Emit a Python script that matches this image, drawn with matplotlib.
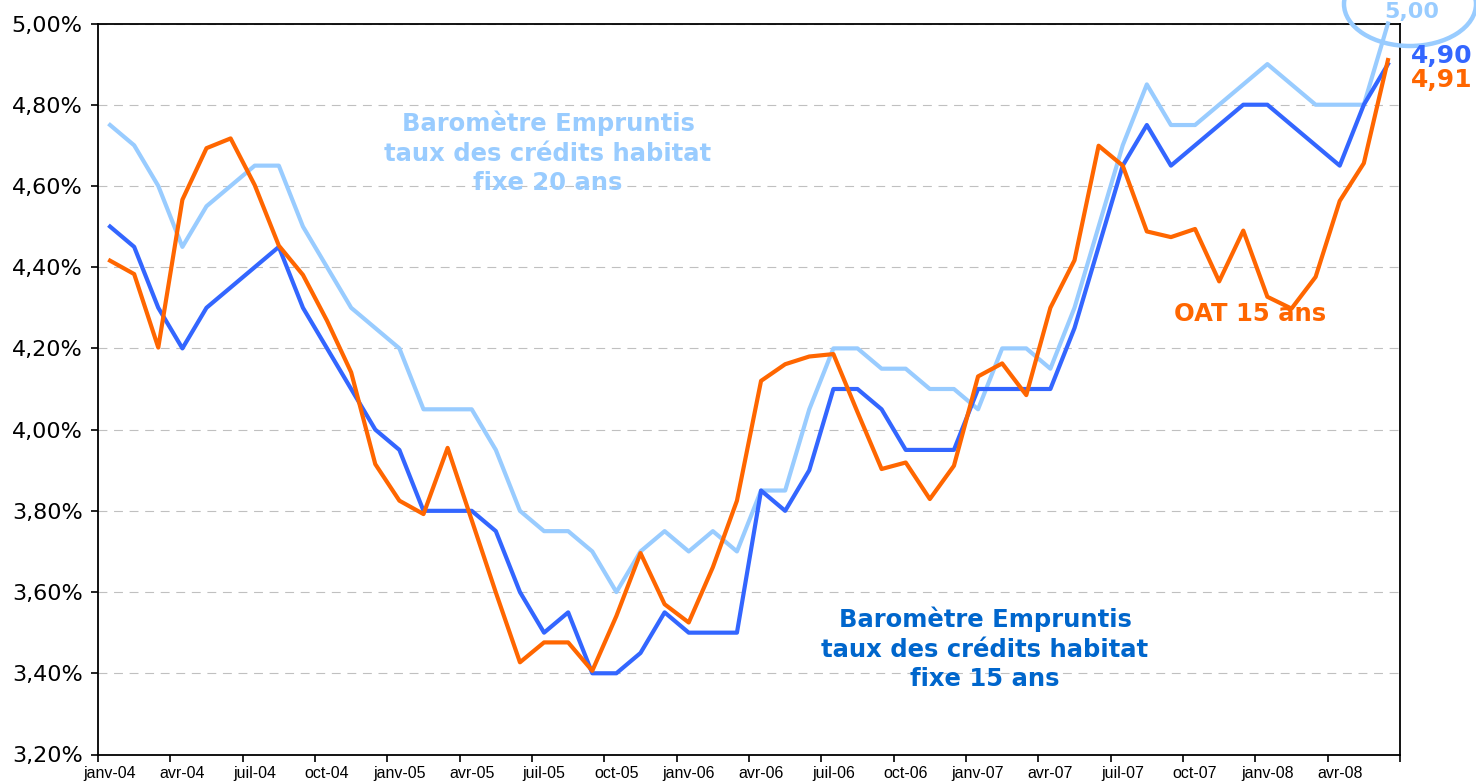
import matplotlib
matplotlib.use("Agg")
import matplotlib.pyplot as plt
from matplotlib import font_manager
from matplotlib.patches import Ellipse
import numpy as np

# ---------------- data ----------------
tick_labels = ["janv-04", "avr-04", "juil-04", "oct-04",
               "janv-05", "avr-05", "juil-05", "oct-05",
               "janv-06", "avr-06", "juil-06", "oct-06",
               "janv-07", "avr-07", "juil-07", "oct-07",
               "janv-08", "avr-08"]

# Baromètre Empruntis - fixe 20 ans (light blue)
fixe20 = [4.75, 4.70, 4.60, 4.45, 4.55, 4.60, 4.65, 4.65, 4.50, 4.40,
          4.30, 4.25, 4.20, 4.05, 4.05, 4.05, 3.95, 3.80, 3.75, 3.75,
          3.70, 3.60, 3.70, 3.75, 3.70, 3.75, 3.70, 3.85, 3.85, 4.05,
          4.20, 4.20, 4.15, 4.15, 4.10, 4.10, 4.05, 4.20, 4.20, 4.15,
          4.30, 4.50, 4.70, 4.85, 4.75, 4.75, 4.80, 4.85, 4.90, 4.85,
          4.80, 4.80, 4.80, 5.00]

# Baromètre Empruntis - fixe 15 ans (blue)
fixe15 = [4.50, 4.45, 4.30, 4.20, 4.30, 4.35, 4.40, 4.45, 4.30, 4.20,
          4.10, 4.00, 3.95, 3.80, 3.80, 3.80, 3.75, 3.60, 3.50, 3.55,
          3.40, 3.40, 3.45, 3.55, 3.50, 3.50, 3.50, 3.85, 3.80, 3.90,
          4.10, 4.10, 4.05, 3.95, 3.95, 3.95, 4.10, 4.10, 4.10, 4.10,
          4.25, 4.45, 4.65, 4.75, 4.65, 4.70, 4.75, 4.80, 4.80, 4.75,
          4.70, 4.65, 4.80, 4.90]

# OAT 15 ans (orange)
oat15 = [4.416, 4.383, 4.202, 4.566, 4.693, 4.717, 4.602, 4.453, 4.381, 4.268,
         4.141, 3.915, 3.825, 3.792, 3.955, 3.777, 3.599, 3.427, 3.476, 3.476,
         3.406, 3.541, 3.696, 3.570, 3.525, 3.661, 3.825, 4.120, 4.161, 4.180,
         4.186, 4.043, 3.903, 3.919, 3.829, 3.911, 4.131, 4.163, 4.085, 4.300,
         4.417, 4.699, 4.650, 4.488, 4.474, 4.494, 4.365, 4.490, 4.327, 4.298,
         4.376, 4.563, 4.656, 4.910]

last_labels = ["5,00", "4,90", "4,91"]

# ---------------- fonts ----------------
names = {f.name for f in font_manager.fontManager.ttflist}
if "Liberation Sans Narrow" in names:
    xfont, xsize = "Liberation Sans Narrow", 13.5
elif "Liberation Sans" in names:
    xfont, xsize = "Liberation Sans", 11.5
else:
    xfont, xsize = "DejaVu Sans", 10
plt.rcParams["font.family"] = ["DejaVu Sans"]

C_LIGHT = "#99CCFF"
C_BLUE = "#3366FF"
C_ORANGE = "#FF6600"
C_TXTBLUE = "#0066CC"

W, H = 1476, 784
fig = plt.figure(figsize=(W / 100, H / 100), dpi=100)
L, R, T, B = 98, 1400, 23.5, 754.5
ax = fig.add_axes([L / W, 1 - B / H, (R - L) / W, (B - T) / H])

x = np.arange(len(fixe20))
ax.plot(x, fixe20, color=C_LIGHT, lw=3, solid_joinstyle="round", zorder=3, clip_on=False)
ax.plot(x, fixe15, color=C_BLUE, lw=3, solid_joinstyle="round", zorder=4, clip_on=False)
ax.plot(x, oat15, color=C_ORANGE, lw=3, solid_joinstyle="round", zorder=5, clip_on=False)

ax.set_xlim(-0.5, len(fixe20) - 0.5)
ax.set_ylim(3.2, 5.0)

yt = np.round(np.arange(3.2, 5.001, 0.2), 2)
ax.set_yticks(yt)
ax.set_yticklabels([f"{v:.2f}%".replace(".", ",") for v in yt], fontsize=16)
ax.yaxis.grid(True, linestyle=(0, (8, 6)), color="#C0C0C0", lw=0.8)
ax.set_axisbelow(True)

major = np.arange(0, len(fixe20), 3)[:len(tick_labels)]
ax.set_xticks(major)
ax.set_xticklabels(tick_labels, fontsize=xsize, family=xfont)
ax.set_xticks(np.arange(-0.5, len(fixe20), 3), minor=True)
ax.tick_params(axis="x", which="major", length=0, pad=8)
ax.tick_params(axis="x", which="minor", length=5, width=1.2, direction="out")
ax.tick_params(axis="y", length=5, width=1.2, direction="out", pad=6)

for s in ax.spines.values():
    s.set_color("black")
    s.set_linewidth(1.3)


def fp(px, py):
    return px / W, 1 - py / H


fig.text(*fp(548, 153), "Baromètre Empruntis\ntaux des crédits habitat\nfixe 20 ans",
         color=C_LIGHT, fontsize=17.5, fontweight="bold", ha="center", va="center",
         linespacing=1.3, multialignment="center")
fig.text(*fp(985, 649), "Baromètre Empruntis\ntaux des crédits habitat\nfixe 15 ans",
         color=C_TXTBLUE, fontsize=17.5, fontweight="bold", ha="center", va="center",
         linespacing=1.3, multialignment="center")
fig.text(*fp(1250, 314), "OAT 15 ans", color=C_ORANGE, fontsize=17.5,
         fontweight="bold", ha="center", va="center")

fig.text(*fp(1412, 18), last_labels[0], color=C_LIGHT, fontsize=16,
         fontweight="bold", ha="center", va="baseline")
fig.text(*fp(1411, 56), last_labels[1], color=C_BLUE, fontsize=18,
         fontweight="bold", ha="left", va="center")
fig.text(*fp(1411, 80), last_labels[2], color=C_ORANGE, fontsize=18,
         fontweight="bold", ha="left", va="center")

ell = Ellipse((1410 / 100, (H - 4) / 100), 132 / 100, 84 / 100,
              transform=fig.dpi_scale_trans, fill=False, edgecolor=C_LIGHT, lw=3.2)
fig.add_artist(ell)

fig.savefig("out.png", dpi=100)
